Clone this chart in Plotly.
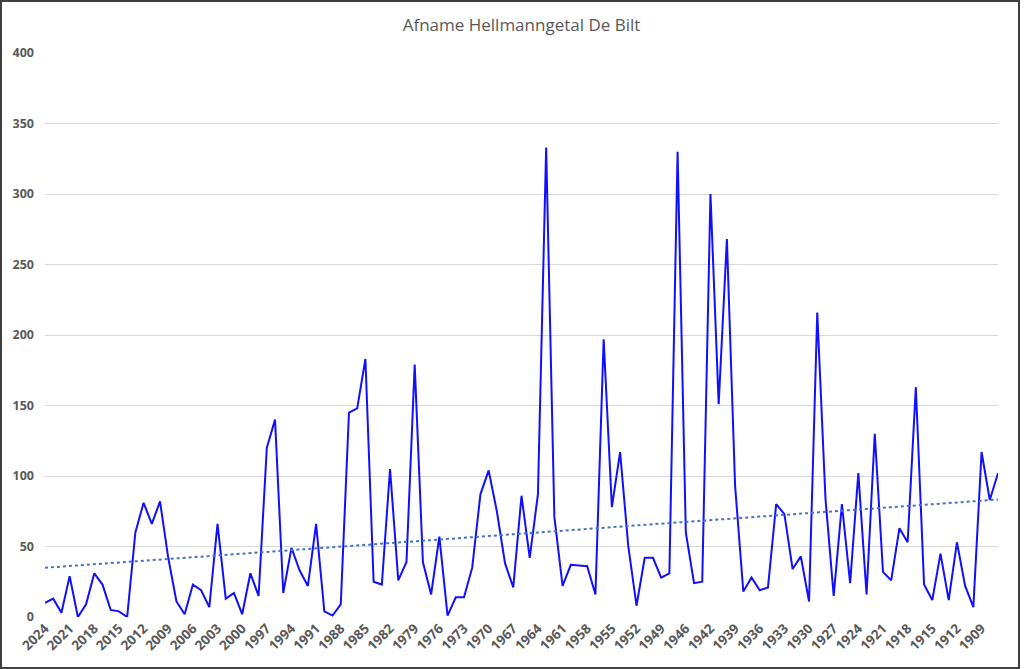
import numpy as np
import plotly.graph_objects as go

# winters from 2024 back to 1907 (1945 is missing in the series)
years = [y for y in range(2024, 1906, -1) if y != 1945]

hellmann = [10, 13, 3, 29, 0, 9, 31, 23, 5, 4,
            0, 60, 81, 66, 82, 42, 11, 2, 23, 19,
            7, 66, 13, 17, 2, 31, 15, 120, 140, 17,
            49, 33, 22, 66, 4, 1, 9, 145, 148, 183,
            25, 23, 105, 26, 39, 179, 39, 16, 57, 1,
            14, 14, 35, 87, 104, 75, 38, 21, 86, 42,
            87, 333, 71, 22, 37, 36.5, 36, 16, 197, 78,
            117, 50, 8, 42, 42, 28, 31, 330, 60, 24,
            25, 300, 151, 268, 93, 18, 28, 19, 21, 80,
            73, 34, 43, 11, 216, 84, 15, 80, 24, 102,
            16, 130, 32, 26, 63, 53, 163, 23, 12, 45,
            12, 53, 22, 7, 117, 83, 102]

y_ticks = [0, 50, 100, 150, 200, 250, 300, 350, 400]

cats = [str(y) for y in years]
x_idx = np.arange(len(hellmann))
slope, intercept = np.polyfit(x_idx, hellmann, 1)
trend = slope * x_idx + intercept

fig = go.Figure()
fig.add_trace(go.Scatter(x=cats, y=hellmann, mode='lines',
                         line=dict(color='#1010FF', width=2), showlegend=False))
fig.add_trace(go.Scatter(x=cats, y=trend, mode='lines',
                         line=dict(color='#4472C4', width=2, dash='dot'), showlegend=False))

fig.update_layout(
    width=1024, height=669,
    margin=dict(l=45, r=26, t=53, b=52),
    paper_bgcolor='white', plot_bgcolor='white',
    title=dict(text='Afname Hellmanngetal De Bilt', x=0.5, xref='paper', y=0.963,
               yanchor='middle', font=dict(family='Open Sans', size=17, color='#595959')),
    font=dict(family='Open Sans', color='#595959'),
)
fig.update_xaxes(type='category', tickmode='array', tickvals=cats[::3], ticktext=cats[::3],
                 tickangle=-45, showgrid=False, showline=False, zeroline=False,
                 tickfont=dict(size=13.5, color='#595959', weight='bold'))
fig.update_yaxes(range=[0, 400], tickvals=y_ticks, showgrid=True, gridcolor='#D9D9D9',
                 zeroline=False, showline=False, ticklabelstandoff=10,
                 tickfont=dict(size=12.5, color='#595959', weight='bold'))

# outer frame of the chart
fig.add_shape(type='rect', xref='paper', yref='paper',
              x0=-44 / 953, x1=(1019 - 45) / 953, y0=-51 / 564, y1=(564 + 52) / 564,
              line=dict(color='#404040', width=2))

# page body has a default 8px margin; remove it so the chart sits at the corner
fig.write_html("out.html", config={'displayModeBar': False},
               post_script="document.body.style.margin='0';")
